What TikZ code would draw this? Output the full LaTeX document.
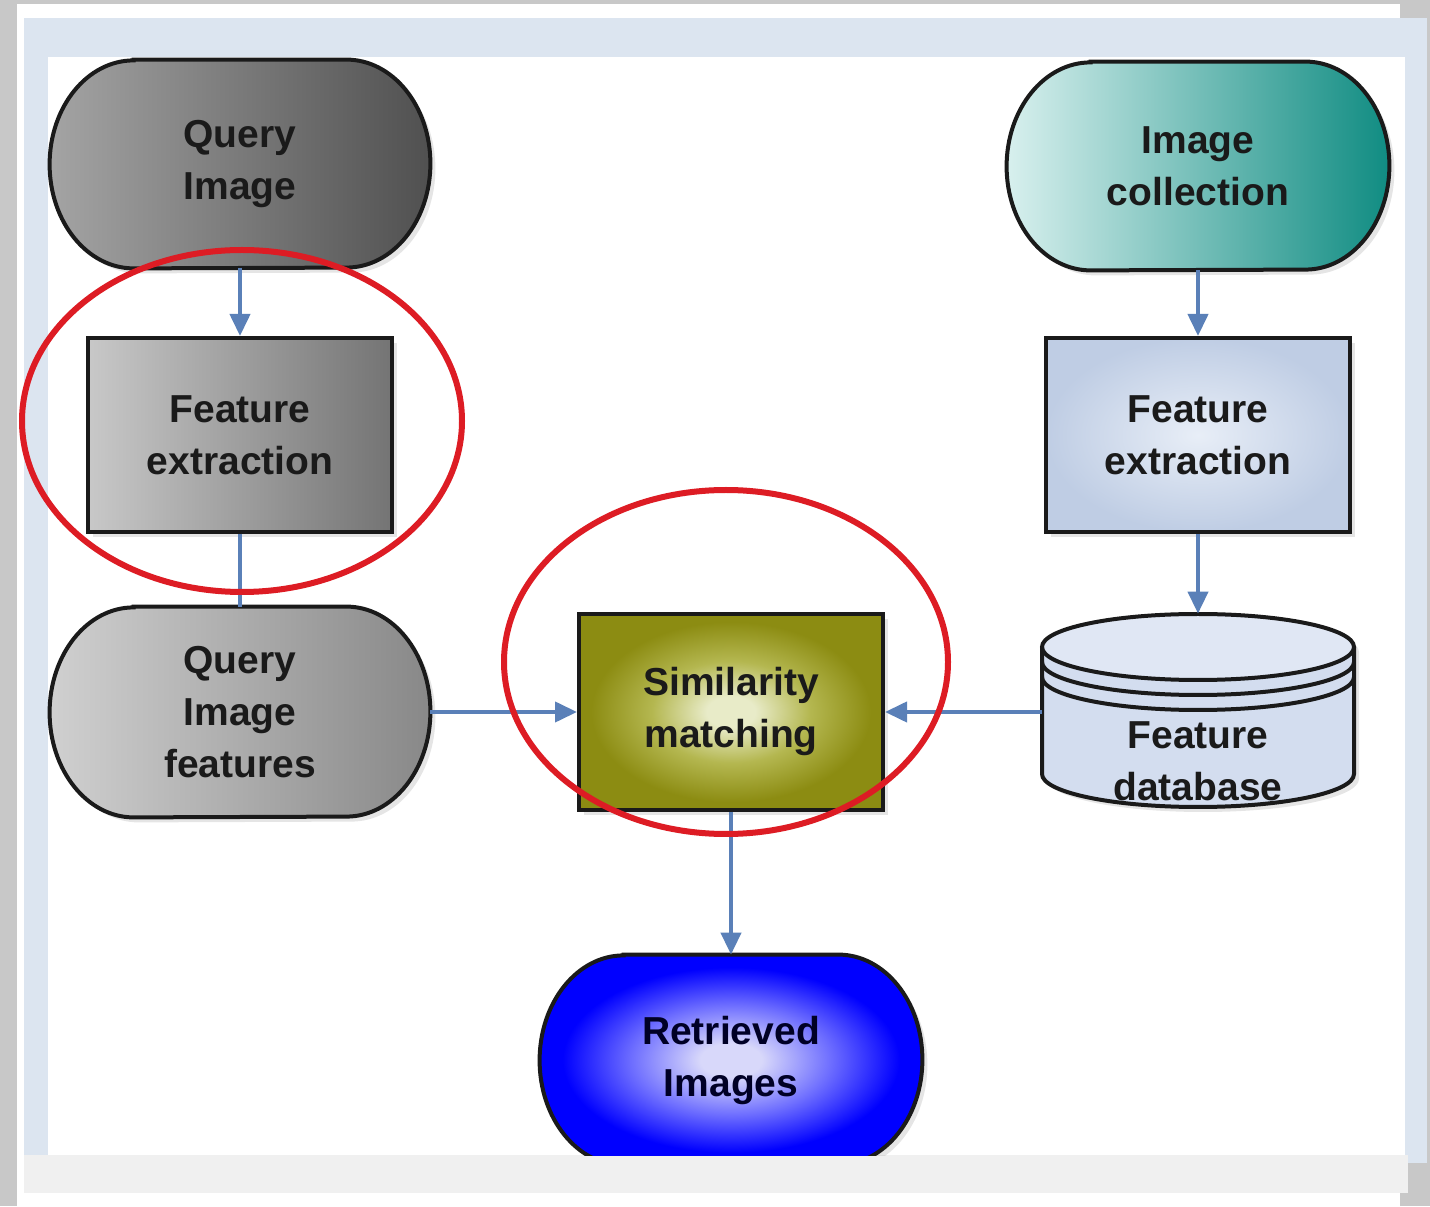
\documentclass[tikz,border=0pt]{standalone}
\usepackage{fontspec}
\setmainfont{Liberation Sans}
\usetikzlibrary{arrows.meta,shadows}
\definecolor{pagegrey}{HTML}{C8C8C8}
\definecolor{framebl}{HTML}{DCE5F0}
\definecolor{bandgrey}{HTML}{F0F0F0}
\definecolor{arrowblue}{HTML}{5A80B8}
\definecolor{ringred}{HTML}{DD1C24}
\definecolor{textdark}{HTML}{1A1A1A}
\definecolor{smin}{HTML}{E8EBC8}
\definecolor{smmid}{HTML}{B4B750}
\definecolor{smout}{HTML}{8C8C12}
\definecolor{riin}{HTML}{D8D8FA}
\definecolor{rimid}{HTML}{6E6EFF}
\definecolor{riout}{HTML}{0000FF}
\definecolor{qil}{HTML}{A4A4A4}
\definecolor{qir}{HTML}{505050}
\definecolor{fel}{HTML}{C8C8C8}
\definecolor{fer}{HTML}{747474}
\definecolor{qfl}{HTML}{D0D0D0}
\definecolor{qfr}{HTML}{888888}
\definecolor{icl}{HTML}{D8F0EE}
\definecolor{icr}{HTML}{108C82}
\definecolor{fein}{HTML}{E8EEF7}
\definecolor{feout}{HTML}{BFCDE4}
\definecolor{dbfillc}{HTML}{D3DDEF}
\definecolor{edge}{HTML}{1A1A1A}
\pgfdeclareradialshading{smshade}{\pgfpoint{0bp}{0bp}}{color(0bp)=(smin); color(4bp)=(smin); color(13bp)=(smmid); color(23bp)=(smout); color(25bp)=(smout); color(50bp)=(smout)}
\pgfdeclareradialshading{rishade}{\pgfpoint{0bp}{0bp}}{color(0bp)=(riin); color(4bp)=(riin); color(13bp)=(rimid); color(22bp)=(riout); color(25bp)=(riout); color(50bp)=(riout)}
\pgfdeclarelayer{bg}
\pgfdeclarelayer{shapes}
\pgfdeclarelayer{top}
\pgfsetlayers{bg,shapes,main,top}
\newcommand\stadiumshape[4]{%
  \path[#2] ([xshift=#3]#1.north west) -- ([xshift=-#3]#1.north east)
    arc[start angle=90,end angle=-90,x radius=#3,y radius=#4]
    -- ([xshift=#3]#1.south west)
    arc[start angle=270,end angle=90,x radius=#3,y radius=#4] -- cycle;}
\begin{document}
\begin{tikzpicture}[x=0.5pt,y=0.5pt,
  txt/.style={font=\bfseries\fontsize{19.5}{26}\selectfont, align=center, text=textdark},
  box/.style={rectangle, inner sep=0pt},
  shad/.style={drop shadow={opacity=0.2, shadow xshift=2.5pt, shadow yshift=-2.5pt}},
  outline/.style={draw=edge, line width=2pt},
  conn/.style={draw=arrowblue, line width=2pt, -{Triangle[length=11pt,width=10pt]}},
  connplain/.style={draw=arrowblue, line width=2pt},
  redring/.style={draw=ringred, line width=3pt},
  dbline/.style={draw=edge, line width=2pt}]
\useasboundingbox (0,0) rectangle (1430,1206);
% page and frame
\begin{pgfonlayer}{bg}
\fill[pagegrey] (0,0) rectangle (1430,1206);
\fill[white] (17,0) rectangle (1400,1202);
\fill[framebl] (24,43) rectangle (1427,1188);
\fill[bandgrey] (24,13) rectangle (1408,51);
\fill[white] (48,51) rectangle (1405,1149);
\end{pgfonlayer}
% nodes
\node[txt, box, minimum width=190pt, minimum height=104pt] (qi) at (240,1042) {Query\\Image};
\node[txt, box, minimum width=152pt, minimum height=97pt, outline, shad, left color=fel, right color=fer] (fe1) at (240,771) {Feature\\extraction};
\node[txt, box, minimum width=190pt, minimum height=105pt] (qif) at (240,494) {Query\\Image\\features};
\node[txt, box, minimum width=152pt, minimum height=98pt, outline, shad, shading=smshade] (sm) at (731,494) {Similarity\\matching};
\node[txt, box, minimum width=191pt, minimum height=104pt] (ic) at (1198,1040) {Image\\collection};
\node[txt, box, minimum width=152pt, minimum height=97pt, outline, shad, inner color=fein, outer color=feout] (fe2) at (1198,771) {Feature\\extraction};
\node[box, minimum width=156pt, minimum height=98pt] (db) at (1198,494) {};
\node[txt, box, minimum width=191pt, minimum height=105pt, text=blue!15!black] (ri) at (731,146) {Retrieved\\Images};
% shapes behind texts
\begin{pgfonlayer}{shapes}
\stadiumshape{qi}{outline, shad, left color=qil, right color=qir}{42pt}{52pt}
\stadiumshape{qif}{outline, shad, left color=qfl, right color=qfr}{42pt}{52.5pt}
\stadiumshape{ic}{outline, shad, left color=icl, right color=icr}{42pt}{52pt}
\begin{scope}
\clip (0,51) rectangle (1430,1206);
\stadiumshape{ri}{outline, shad, shading=rishade}{42pt}{52.5pt}
\end{scope}
% cylinder
\path[fill=dbfillc, shad] (1042,559) -- (1042,432)
  arc[start angle=180,end angle=360,x radius=78pt,y radius=16.5pt] -- (1354,559)
  arc[start angle=0,end angle=180,x radius=78pt,y radius=16.5pt] -- cycle;
\fill[fein!60!dbfillc] (1198,559) ellipse [x radius=78pt, y radius=16.5pt];
\draw[dbline] (1198,559) ellipse [x radius=78pt, y radius=16.5pt];
\draw[dbline] (1042,544) arc[start angle=180,end angle=360,x radius=78pt,y radius=16.5pt];
\draw[dbline] (1042,529) arc[start angle=180,end angle=360,x radius=78pt,y radius=16.5pt];
\draw[dbline] (1042,559) -- (1042,432)
  arc[start angle=180,end angle=360,x radius=78pt,y radius=16.5pt] -- (1354,559);
\end{pgfonlayer}
\node[txt] (dbtext) at (1198,445) {Feature\\database};
% connectors
\draw[conn] (qi) -- (fe1);
\draw[connplain] (fe1) -- (qif);
\draw[conn] (qif) -- (sm);
\draw[conn] (db) -- (sm);
\draw[conn] (ic) -- (fe2);
\draw[conn] (fe2) -- (db);
\draw[conn] (sm) -- (ri);
% red highlight rings
\begin{pgfonlayer}{top}
\draw[redring] (242,785) ellipse [x radius=110pt, y radius=85.5pt];
\draw[redring] (726,544) ellipse [x radius=111pt, y radius=86pt];
\end{pgfonlayer}
\end{tikzpicture}
\end{document}
